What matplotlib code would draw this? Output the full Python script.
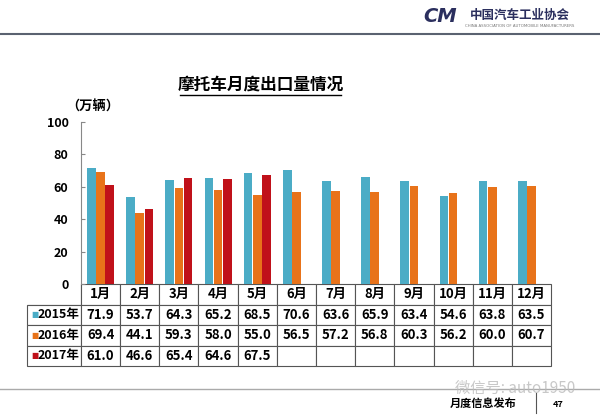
import matplotlib
matplotlib.use('Agg')
import matplotlib.pyplot as plt
import numpy as np

plt.rcParams['font.family'] = ['Noto Sans CJK SC', 'DejaVu Sans']

##############################################
# === Data ===
##############################################
months = ['1月', '2月', '3月', '4月', '5月', '6月', '7月', '8月', '9月', '10月', '11月', '12月']
years = ['2015年', '2016年', '2017年']
v2015 = [71.9, 53.7, 64.3, 65.2, 68.5, 70.6, 63.6, 65.9, 63.4, 54.6, 63.8, 63.5]
v2016 = [69.4, 44.1, 59.3, 58.0, 55.0, 56.5, 57.2, 56.8, 60.3, 56.2, 60.0, 60.7]
v2017 = [61.0, 46.6, 65.4, 64.6, 67.5]
colors = ['#4bacc6', '#e8731a', '#c0111a']
yticks = [0, 20, 40, 60, 80, 100]

##############################################
# === Figure ===
##############################################
W, H = 600, 415
fig = plt.figure(figsize=(6, 4.15), dpi=100)
# plot area in pixels: x 81..551, y 122..284
ax = fig.add_axes([81 / W, 1 - 284 / H, 470 / W, 162 / H])

x = np.arange(len(months))
bw = 0.22
offs = [-0.235, 0, 0.235]
for vals, c, o in zip([v2015, v2016, v2017], colors, offs):
    xs = x[:len(vals)] + o
    ax.bar(xs, vals, width=bw, color=c, zorder=2)

ax.set_xlim(-0.5, len(months) - 0.5)
ax.set_ylim(0, 100)
ax.set_yticks(yticks)
ax.set_yticklabels([str(t) for t in yticks], fontsize=9, fontweight='bold')
ax.tick_params(axis='y', direction='in', length=3, color='#888888', pad=9)
ax.tick_params(axis='x', bottom=False, labelbottom=False)
for s in ['top', 'right', 'bottom']:
    ax.spines[s].set_visible(False)
ax.spines['left'].set_color('#888888')
ax.spines['left'].set_linewidth(0.8)

##############################################
# === Data table under the chart ===
##############################################
def fmt(vals):
    return [f'{v:.1f}' for v in vals] + [''] * (len(months) - len(vals))

cell_text = [[''] + months]
for y, vals in zip(years, [v2015, v2016, v2017]):
    cell_text.append([y] + fmt(vals))

label_w = 54
col_w = 470 / 12
widths = [label_w] + [col_w] * 12
tbl_h = 82
tbl = ax.table(cellText=cell_text, cellLoc='center', colWidths=widths,
               bbox=[-label_w / 470, -tbl_h / 162, (470 + label_w) / 470, tbl_h / 162])
tbl.auto_set_font_size(False)
for (r, c), cell in tbl.get_celld().items():
    cell.set_edgecolor('#555555')
    cell.set_linewidth(0.8)
    cell.get_text().set_fontsize(9.5)
    cell.get_text().set_fontweight('bold')
    if r == 0 and c == 0:
        cell.visible_edges = 'BR'
    if c == 0 and r > 0:
        cell.get_text().set_fontsize(9)
        cell.get_text().set_ha('right')
        cell.PAD = 0.03

# small colour keys beside the year labels
row_h = tbl_h / 4
for i, c in enumerate(colors):
    yc = -(row_h * (i + 1) + row_h / 2) / 162
    ax.text(-(label_w - 4) / 470, yc, '■', color=c, fontsize=5.5,
            transform=ax.transAxes, ha='left', va='center', family='DejaVu Sans')

##############################################
# === Page decorations ===
##############################################
fig.text(261 / W, 1 - 85 / H, '摩托车月度出口量情况', fontsize=12, fontweight='bold',
         ha='center', va='center')
fig.add_artist(plt.Line2D([180 / W, 341 / W], [1 - 95 / H, 1 - 95 / H], color='black', lw=1))
fig.text(66 / W, 1 - 107 / H, '（万辆）', fontsize=9.5, fontweight='bold', ha='left', va='center')

# header line and logo
fig.add_artist(plt.Line2D([0, 1], [1 - 34 / H, 1 - 34 / H], color='#5a6270', lw=1.5))
fig.text(440 / W, 1 - 17 / H, 'CM', fontsize=14, fontweight='bold', color='#2b2f5e',
         style='italic', ha='center', va='center', family='DejaVu Sans')
fig.text(520 / W, 1 - 15 / H, '中国汽车工业协会', fontsize=9, fontweight='bold',
         color='#2b2f5e', ha='center', va='center')
fig.text(520 / W, 1 - 26 / H, 'CHINA ASSOCIATION OF AUTOMOBILE MANUFACTURERS', fontsize=2.8,
         color='#777777', ha='center', va='center', family='DejaVu Sans')

# footer
fig.add_artist(plt.Line2D([0, 1], [1 - 389 / H, 1 - 389 / H], color='#aaaaaa', lw=1))
fig.add_artist(plt.Line2D([536 / W, 536 / W], [1 - 393 / H, 1 - 413 / H], color='#555555', lw=0.8))
fig.text(483 / W, 1 - 403 / H, '月度信息发布', fontsize=8, fontweight='bold', ha='center', va='center')
fig.text(558 / W, 1 - 404 / H, '47', fontsize=6.5, fontweight='bold', ha='center', va='center')
fig.text(515 / W, 1 - 388 / H, '微信号: auto1950', fontsize=11, color='#bbbbbb',
         ha='center', va='center', alpha=0.8)

fig.savefig('out.png', dpi=100)
